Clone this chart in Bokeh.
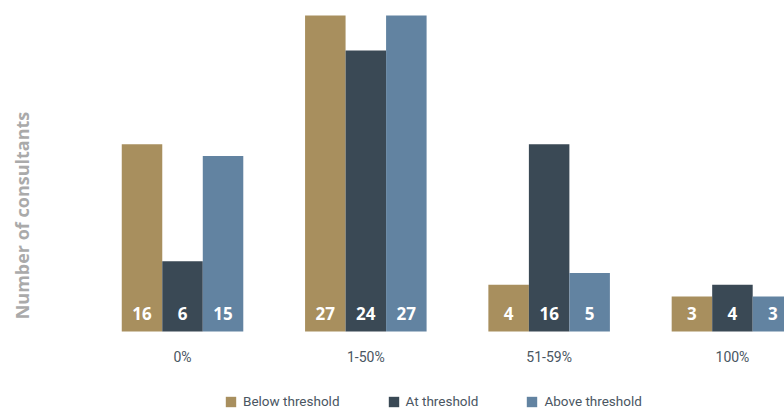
from bokeh.plotting import figure
from bokeh.models import ColumnDataSource, Legend, LegendItem, Range1d
from bokeh.core.properties import value
from bokeh.embed import file_html
from bokeh.resources import INLINE

categories = ["0%", "1-50%", "51-59%", "100%"]
series_names = ["Below threshold", "At threshold", "Above threshold"]
below = [16, 27, 4, 3]
at = [6, 24, 16, 4]
above = [15, 27, 5, 3]
colors = ["#A88F5E", "#3A4955", "#6283A1"]
y_title = "Number of consultants"

W, H = 784, 410
X0, X1 = -0.993, 3.284
Y0, Y1 = -6.75, 28.28
p = figure(width=W, height=H, output_backend="svg", toolbar_location=None,
           x_range=Range1d(X0, X1), y_range=Range1d(Y0, Y1),
           min_border=0, outline_line_color=None)
p.xaxis.visible = False
p.yaxis.visible = False
p.grid.visible = False
p.background_fill_color = "white"
p.border_fill_color = "white"

bw = 0.221
offsets = [-bw, 0.0, bw]
xs = list(range(len(categories)))
renderers = []
for vals, off, col in zip([below, at, above], offsets, colors):
    src = ColumnDataSource(dict(x=[i + off for i in xs], top=vals,
                                lab=[str(v) for v in vals], zero=[0] * len(vals)))
    r = p.vbar(x="x", top="top", bottom=0, width=bw, color=col, line_color=None, source=src)
    renderers.append(r)
    p.text(x="x", y="zero", text="lab", source=src, y_offset=-18,
           text_align="center", text_baseline="middle", text_color="white",
           text_font=value("Open Sans"), text_font_style="bold", text_font_size="17px")

cat_src = ColumnDataSource(dict(x=xs, y=[0] * len(xs), t=categories))
p.text(x="x", y="y", text="t", source=cat_src, y_offset=26,
       text_align="center", text_baseline="middle", text_color="#4A5662",
       text_font=value("Roboto"), text_font_size="14px")

p.text(x=[X0 + 21 / 183.3], y=[9.91], text=[y_title], angle=1.5708,
       text_align="center", text_baseline="middle", text_color="#AAAAAA",
       text_font=value("Open Sans"), text_font_style="bold", text_font_size="18px")

legend = Legend(items=[LegendItem(label=n, renderers=[r]) for n, r in zip(series_names, renderers)],
                orientation="horizontal", location=(224, 1),
                glyph_width=13, glyph_height=13, label_standoff=6, spacing=47,
                padding=0, margin=0, label_height=13, border_line_color=None,
                background_fill_alpha=0,
                label_text_font="Roboto", label_text_font_size="13.5px",
                label_text_color="#4A5662", label_text_baseline="middle")
p.add_layout(legend, "center")

open("out.html", "w").write(file_html(p, INLINE))
